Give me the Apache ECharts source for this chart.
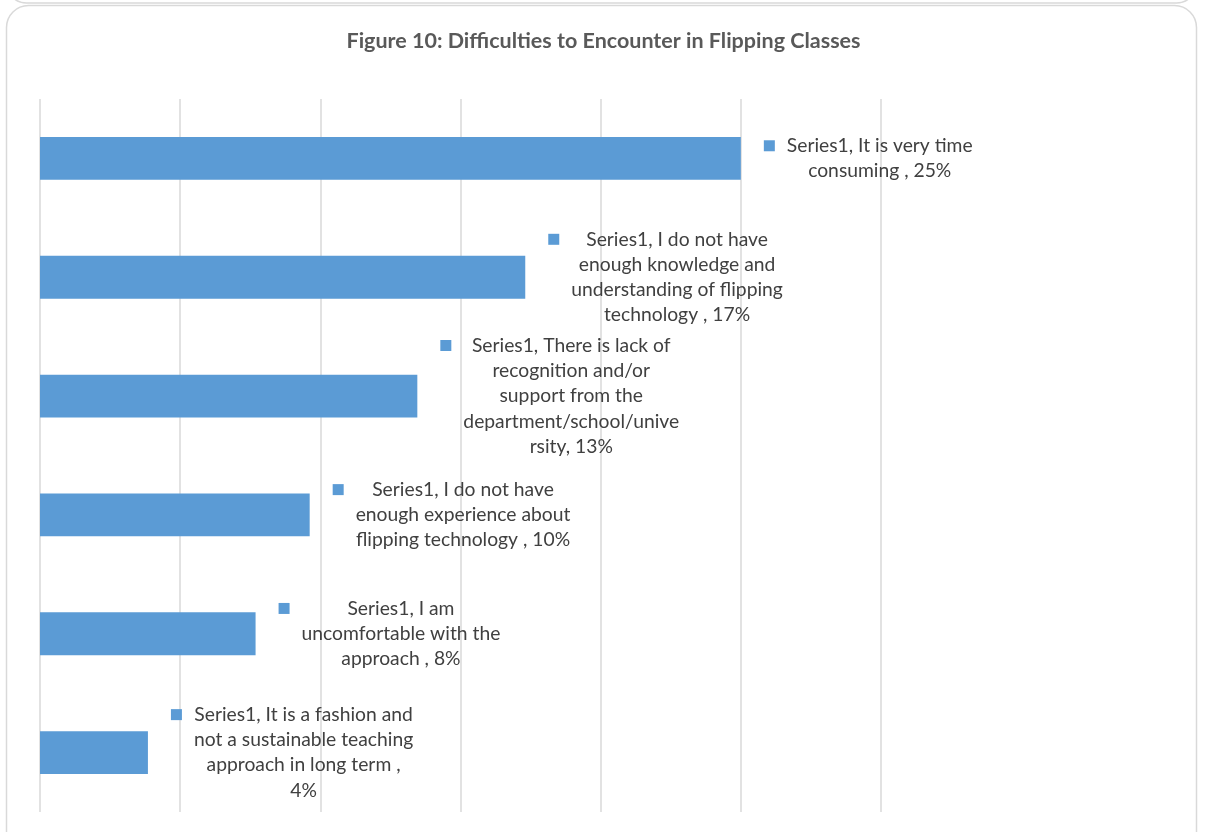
<!DOCTYPE html>
<html>
<head>
<meta charset="utf-8">
<title>Figure 10: Difficulties to Encounter in Flipping Classes</title>
<script src="https://cdn.jsdelivr.net/npm/echarts@6/dist/echarts.min.js"></script>
<style>
  html, body { margin: 0; padding: 0; background: #ffffff; }
  #chart { width: 1207px; height: 832px; }
</style>
</head>
<body>
<div id="chart"></div>
<script>
// Survey answers: difficulties teachers expect when flipping classes
const seriesName = 'Series1';
const categories = [
  'It is very time consuming ',
  'I do not have enough knowledge and understanding of flipping technology ',
  'There is lack of recognition and/or support from the department/school/university',
  'I do not have enough experience about flipping technology ',
  'I am uncomfortable with the approach ',
  'It is a fashion and not a sustainable teaching approach in long term '
];
// share of respondents
const values = [0.25, 0.1731, 0.1346, 0.0962, 0.0769, 0.0385];
// x-axis scale (percent of respondents)
const axisMin = 0;
const axisMax = 0.30;
const axisStep = 0.05;
// wrapped data-label lines; {v} is replaced by the formatted value
const labelLines = [
  ['Series1, It is very time', 'consuming , {v}'],
  ['Series1, I do not have', 'enough knowledge and', 'understanding of flipping', 'technology , {v}'],
  ['Series1, There is lack of', 'recognition and/or', 'support from the', 'department/school/unive', 'rsity, {v}'],
  ['Series1, I do not have', 'enough experience about', 'flipping technology , {v}'],
  ['Series1, I am', 'uncomfortable with the', 'approach , {v}'],
  ['Series1, It is a fashion and', 'not a sustainable teaching', 'approach in long term ,', '{v}']
];

const BAR_COLOR = '#5b9bd5';
const TEXT_FONT = 'Lato, "Liberation Sans", sans-serif';

const pct = v => Math.round(v * 100) + '%';

const chart = echarts.init(document.getElementById('chart'), null, { renderer: 'canvas' });

chart.setOption({
  backgroundColor: '#ffffff',
  animation: false,
  title: {
    text: 'Figure 10: Difficulties to Encounter in Flipping Classes',
    left: 'center',
    top: 23,
    textStyle: {
      fontFamily: TEXT_FONT,
      fontSize: 21.5,
      fontWeight: 'bold',
      color: '#595959',
      lineHeight: 26
    }
  },
  graphic: [
    // lower edge of the preceding panel
    {
      type: 'rect',
      silent: true,
      shape: { x: 6.5, y: -200, width: 1190, height: 203, r: 20 },
      style: { fill: 'none', stroke: '#d9d9d9', lineWidth: 1.5 }
    },
    // panel around the chart
    {
      type: 'rect',
      silent: true,
      shape: { x: 6.5, y: 5.5, width: 1190, height: 860, r: 22 },
      style: { fill: 'none', stroke: '#d9d9d9', lineWidth: 1.5 }
    }
  ],
  grid: {
    left: 40,
    right: 326,
    top: 99,
    bottom: 20,
    containLabel: false
  },
  xAxis: {
    type: 'value',
    min: axisMin,
    max: axisMax,
    interval: axisStep,
    axisLine: { show: false },
    axisTick: { show: false },
    axisLabel: { show: false },
    splitLine: { show: true, lineStyle: { color: '#d9d9d9', width: 1.5 } }
  },
  yAxis: {
    type: 'category',
    inverse: true,
    data: categories,
    axisLine: { show: false },
    axisTick: { show: false },
    axisLabel: { show: false },
    splitLine: { show: false }
  },
  series: [{
    name: seriesName,
    type: 'bar',
    data: values,
    barCategoryGap: '64%',
    itemStyle: { color: BAR_COLOR },
    label: {
      show: true,
      position: 'right',
      distance: 23,
      formatter: p => labelLines[p.dataIndex].map((line, i) => {
        const txt = line.replace('{v}', pct(p.value));
        return (i === 0 ? '{m|}{g|}' : '{s|}') + '{t|' + txt + '}';
      }).join('\n'),
      rich: {
        m: { width: 11, height: 11, backgroundColor: BAR_COLOR, verticalAlign: 'middle', lineHeight: 25 },
        g: { width: 12, height: 11, lineHeight: 25 },
        s: { width: 23, height: 11, lineHeight: 25 },
        t: {
          align: 'center',
          fontFamily: TEXT_FONT,
          fontSize: 19.3,
          lineHeight: 25.3,
          color: '#404040'
        }
      }
    }
  }]
});
</script>
</body>
</html>
